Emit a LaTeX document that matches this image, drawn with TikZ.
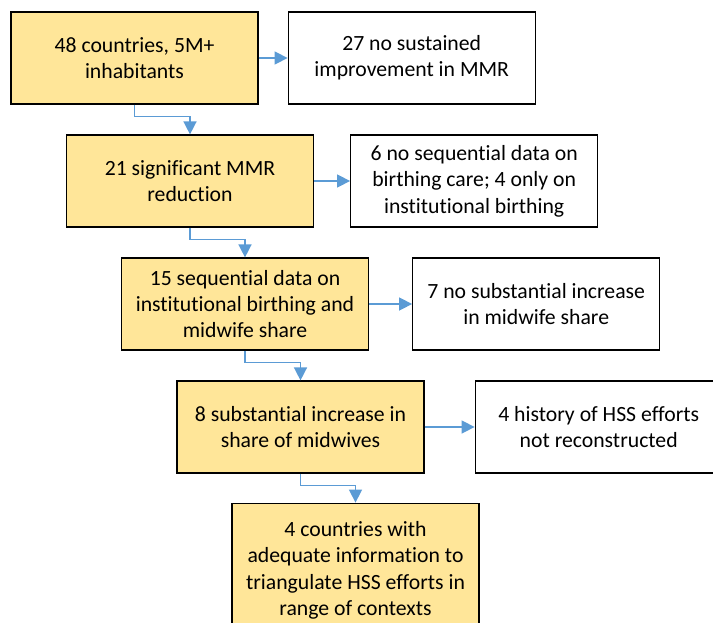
\documentclass[tikz,border=0pt]{standalone}
\usepackage{fontspec}
\setmainfont{Carlito}[Ligatures=NoCommon]
\usetikzlibrary{arrows.meta, positioning}
\definecolor{stagefill}{HTML}{FFE699}
\definecolor{flowblue}{HTML}{5B9BD5}

\begin{document}
\begin{tikzpicture}[x=1bp, y=-1bp, font=\fontsize{21.8}{26.5}\selectfont,
    >={Triangle[length=13bp, width=13bp]},
    stage/.style={draw, line width=1.2bp, fill=stagefill, minimum width=247bp, minimum height=92bp, align=center, inner sep=0pt},
    drop/.style={draw, line width=1.2bp, fill=white, minimum width=247bp, minimum height=92bp, align=center, inner sep=0pt},
    flow/.style={->, draw=flowblue, line width=1.5bp}]
    \clip (0,0) rectangle (713,623);
    \node[stage] (all) at (134.5,58) {48 countries, 5M+\\inhabitants};
    \node[stage, below=29.8bp of all, xshift=55.5bp] (mmr) {21 significant MMR\\reduction};
    \node[stage, below=29.8bp of mmr, xshift=55bp] (seq) {15 sequential data on\\institutional birthing and\\midwife share};
    \node[stage, below=29.8bp of seq, xshift=55.5bp] (mid) {8 substantial increase in\\share of midwives};
    \node[stage, below=29bp of mid, xshift=55bp, minimum height=134bp] (final) {4 countries with\\adequate information to\\triangulate HSS efforts in\\range of contexts};
    \node[drop, right=29bp of all] (nosust) {27 no sustained\\improvement in MMR};
    \node[drop, right=36bp of mmr] (nodata) {6 no sequential data on\\birthing care; 4 only on\\institutional birthing};
    \node[drop, right=43bp of seq] (noinc) {7 no substantial increase\\in midwife share};
    \node[drop, right=50bp of mid] (nohist) {4 history of HSS efforts\\not reconstructed};
    % side exits
    \draw[flow] (all) -- (nosust);
    \draw[flow] (mmr) -- (nodata);
    \draw[flow] (seq) -- (noinc);
    \draw[flow] (mid) -- (nohist);
    % steps down
    \draw[flow] (all.south) -- ++(0,12) -| (mmr.north);
    \draw[flow] (mmr.south) -- ++(0,12) -| (seq.north);
    \draw[flow] (seq.south) -- ++(0,12) -| (mid.north);
    \draw[flow] (mid.south) -- ++(0,12) -| (final.north);
\end{tikzpicture}
\end{document}
